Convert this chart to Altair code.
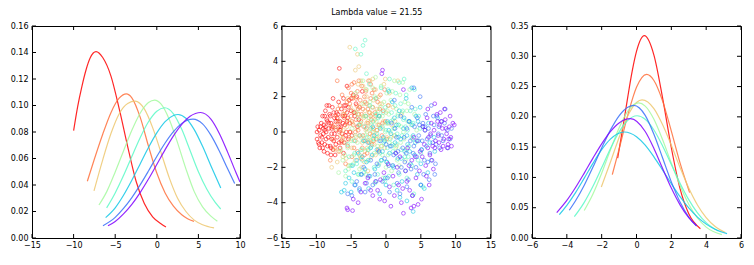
import altair as alt
import pandas as pd

FONT = "DejaVu Sans"
classes = ["c1", "c2", "c3", "c4", "c5", "c6", "c7", "c8"]
colors = ["#ff0000", "#ff6f39", "#edc76f", "#a4f99f", "#5bf9c7", "#12c7e6", "#376ff9", "#8000ff"]
title_text = "Lambda value = 21.55"

# ---- left panel: curves over the first latent axis ----
lx_c1 = [-10.0, -9.5, -9.0, -8.5, -8.0, -7.3, -6.5, -5.5, -4.5, -3.5, -2.5, -1.5, -0.5, 0.5, 1.1]
ly_c1 = [0.081, 0.0996, 0.1145, 0.127, 0.136, 0.1406, 0.1362, 0.122, 0.097, 0.069, 0.043, 0.026, 0.016, 0.0108, 0.0083]
lx_c2 = [-8.35, -7.5, -6.5, -5.5, -4.5, -3.66, -3.0, -2.0, -1.0, 0.0, 1.0, 2.0, 3.0, 3.7, 4.47]
ly_c2 = [0.0428, 0.0596, 0.0783, 0.0948, 0.1057, 0.1088, 0.1058, 0.0912, 0.0693, 0.049, 0.034, 0.024, 0.0175, 0.0145, 0.0126]
lx_c3 = [-7.55, -6.5, -5.5, -4.5, -3.5, -2.6, -1.5, -0.5, 0.5, 1.5, 2.5, 3.5, 4.5, 5.5, 6.88]
ly_c3 = [0.0355, 0.059, 0.079, 0.094, 0.1015, 0.1033, 0.0974, 0.0833, 0.0646, 0.0454, 0.030, 0.020, 0.0135, 0.0100, 0.0076]
lx_c4 = [-6.95, -6.0, -5.0, -4.0, -3.0, -2.0, -1.0, -0.26, 0.5, 1.5, 2.5, 3.5, 4.5, 5.5, 6.5, 7.28]
ly_c4 = [0.0249, 0.0352, 0.0498, 0.0657, 0.0813, 0.0942, 0.1022, 0.1041, 0.1012, 0.0895, 0.0718, 0.0522, 0.0350, 0.0235, 0.0165, 0.0126]
lx_c5 = [-6.03, -5.0, -4.0, -3.0, -2.0, -1.0, 0.0, 0.95, 2.0, 3.0, 4.0, 5.0, 6.0, 7.0, 7.68]
ly_c5 = [0.0227, 0.034, 0.0471, 0.0615, 0.0757, 0.0877, 0.0957, 0.0983, 0.0937, 0.082, 0.066, 0.050, 0.037, 0.027, 0.0219]
lx_c6 = [-6.15, -5.0, -4.0, -3.0, -2.0, -1.0, 0.0, 1.0, 2.0, 2.55, 3.5, 4.5, 5.5, 6.5, 7.68]
ly_c6 = [0.0154, 0.0228, 0.0323, 0.0436, 0.0559, 0.0683, 0.0793, 0.0878, 0.0925, 0.0932, 0.0904, 0.0818, 0.0692, 0.0546, 0.0378]
lx_c7 = [-6.47, -5.0, -4.0, -3.0, -2.0, -1.0, 0.0, 1.0, 2.0, 3.0, 4.35, 5.5, 6.5, 7.5, 8.5, 9.36]
ly_c7 = [0.0093, 0.0156, 0.0223, 0.0305, 0.0401, 0.0506, 0.0615, 0.0717, 0.0803, 0.0865, 0.0897, 0.0861, 0.0776, 0.0658, 0.0524, 0.0411]
lx_c8 = [-5.87, -5.0, -4.0, -3.0, -2.0, -1.0, 0.0, 1.0, 2.0, 3.0, 4.0, 5.27, 6.5, 7.5, 8.5, 9.5, 10.0]
ly_c8 = [0.0093, 0.0125, 0.0182, 0.0254, 0.0343, 0.0445, 0.0555, 0.0667, 0.0771, 0.0858, 0.0918, 0.0947, 0.0897, 0.0791, 0.065, 0.0496, 0.0423]

# ---- right panel: curves over the second latent axis ----
rx_c1 = [-1.08, -0.75, -0.5, -0.25, 0.0, 0.45, 1.0, 1.5, 2.0, 2.5, 3.0, 3.67]
ry_c1 = [0.132, 0.188, 0.233, 0.275, 0.308, 0.334, 0.302, 0.231, 0.149, 0.0814, 0.040, 0.0154]
rx_c2 = [-1.39, -1.0, -0.5, 0.0, 0.58, 1.0, 1.5, 2.0, 2.5, 3.05]
ry_c2 = [0.1047, 0.1467, 0.203, 0.2487, 0.270, 0.260, 0.226, 0.1765, 0.124, 0.075]
rx_c3 = [-2.02, -1.5, -1.0, -0.5, 0.0, 0.32, 1.0, 1.5, 2.0, 2.5, 3.0, 3.5, 4.0, 4.5, 5.1]
ry_c3 = [0.0843, 0.125, 0.166, 0.2018, 0.2238, 0.228, 0.2136, 0.187, 0.153, 0.1164, 0.0825, 0.0545, 0.0336, 0.0193, 0.009]
rx_c4 = [-3.0, -2.5, -2.0, -1.5, -1.0, -0.5, 0.12, 0.5, 1.0, 1.5, 2.0, 2.5, 3.0, 3.5, 4.0, 4.9]
ry_c4 = [0.0455, 0.0727, 0.107, 0.1453, 0.1817, 0.2094, 0.223, 0.2177, 0.196, 0.1622, 0.1236, 0.0866, 0.0558, 0.033, 0.018, 0.0055]
rx_c5 = [-3.57, -3.0, -2.5, -2.0, -1.5, -1.0, -0.5, 0.03, 0.5, 1.0, 1.5, 2.0, 2.5, 3.0, 3.5, 4.0, 4.7]
ry_c5 = [0.0352, 0.0589, 0.0855, 0.116, 0.1474, 0.175, 0.1943, 0.2018, 0.196, 0.1783, 0.1519, 0.1212, 0.0905, 0.0633, 0.0414, 0.0254, 0.0115]
rx_c6 = [-4.43, -4.0, -3.5, -3.0, -2.5, -2.0, -1.5, -0.7, 0.0, 0.5, 1.0, 1.5, 2.0, 2.5, 3.0, 3.5, 4.0, 4.5, 5.2]
ry_c6 = [0.0386, 0.0539, 0.0749, 0.0988, 0.1233, 0.1458, 0.1633, 0.175, 0.1673, 0.1533, 0.134, 0.1121, 0.0895, 0.0682, 0.0496, 0.0345, 0.0229, 0.0145, 0.0072]
rx_c7 = [-3.86, -3.5, -3.0, -2.5, -2.0, -1.5, -1.0, -0.5, -0.15, 0.5, 1.0, 1.5, 2.0, 2.5, 3.0, 3.45]
ry_c7 = [0.0458, 0.0614, 0.0872, 0.1171, 0.1486, 0.1781, 0.2018, 0.216, 0.219, 0.2025, 0.1713, 0.132, 0.0927, 0.0593, 0.0346, 0.0198]
rx_c8 = [-4.58, -4.0, -3.5, -3.0, -2.5, -2.0, -1.5, -1.0, -0.35, 0.5, 1.0, 1.5, 2.0, 2.5, 3.0, 3.45]
ry_c8 = [0.0419, 0.062, 0.0833, 0.1071, 0.1319, 0.1555, 0.1756, 0.190, 0.197, 0.1758, 0.1478, 0.1148, 0.0824, 0.0547, 0.0335, 0.020]

# ---- middle panel: scattered latent points per class ----
pts_c1 = [[-9.9,-0.4],[-9.7,-0.6],[-9.6,0.1],[-9.8,0.3],[-9.4,-0.2],[-9.3,0.5],[-9.5,-0.9],[-9.1,0.9],[-9.0,-0.1],[-8.9,0.4],[-8.8,-0.7],[-8.7,1.2],[-8.6,0.0],[-8.5,0.7],[-8.4,-1.2],[-8.3,-0.3],[-8.2,0.2],[-8.1,1.0],[-8.0,-0.8],[-7.9,0.5],[-7.8,-0.1],[-7.7,1.4],[-7.6,0.3],[-7.5,-0.5],[-7.4,0.8],[-7.3,-1.3],[-7.2,0.1],[-7.1,1.1],[-7.0,-0.3],[-6.9,0.6],[-6.8,1.7],[-6.7,3.6],[-6.6,-0.9],[-6.5,0.3],[-6.4,1.3],[-6.3,-0.1],[-6.2,0.9],[-6.1,1.9],[-6.0,-0.6],[-5.9,0.4],[-5.8,1.5],[-5.7,0.0],[-5.6,2.6],[-5.5,0.8],[-5.4,-0.4],[-5.3,1.8],[-5.2,0.5],[-5.0,1.2],[-4.9,-0.2],[-4.7,2.1],[-4.5,0.9],[-4.3,1.6],[-4.1,0.3],[-3.8,1.4],[-3.4,2.3],[-8.9,-1.1],[-9.2,-0.3],[-8.4,0.6],[-7.9,-0.9],[-7.2,0.6],[-6.6,0.1],[-6.9,1.0],[-7.6,1.9],[-8.2,1.5],[-6.1,-1.2],[-5.6,1.1],[-7.8,0.2],[-8.7,0.3],
          [-9.6,-0.7],[-9.4,0.3],[-9.2,-0.6],[-9.0,0.2],[-8.8,0.9],[-8.6,-0.4],[-8.4,-0.8],[-8.2,0.5],[-8.0,0.9],[-7.8,-0.4],[-7.6,-1.0],[-7.4,-0.1],[-7.2,-0.7],[-7.0,0.8],[-6.8,0.3],[-6.6,0.6],[-6.4,-0.5],[-6.2,0.5],[-6.0,1.5],[-5.8,-0.2],[-5.6,0.6],[-5.4,1.4],[-5.2,0.0],[-9.9,0.0],[-9.1,-0.9],[-8.5,1.5],[-7.5,1.1],[-6.7,-0.6],[-5.9,0.9],[-5.0,1.9],[-4.6,1.1],[-4.2,2.0],[-3.9,0.7],[-7.9,-1.3],[-8.8,0.1]]
pts_c2 = [[-8.0,-1.6],[-7.6,-0.4],[-7.2,0.9],[-7.0,2.9],[-6.8,-1.1],[-6.5,0.2],[-6.3,2.1],[-6.1,-0.3],[-5.9,1.2],[-5.7,0.5],[-5.5,-0.8],[-5.4,2.5],[-5.2,1.6],[-5.1,0.0],[-5.0,0.9],[-4.9,-1.4],[-4.8,1.9],[-4.7,0.4],[-4.6,2.8],[-4.5,1.1],[-4.4,-0.5],[-4.3,0.7],[-4.2,1.5],[-4.1,2.3],[-4.0,0.1],[-3.9,1.0],[-3.8,-0.2],[-3.7,1.8],[-3.6,0.6],[-3.5,2.6],[-3.4,-0.9],[-3.3,1.3],[-3.2,0.3],[-3.1,2.0],[-3.0,-0.5],[-2.9,0.9],[-2.8,1.6],[-2.7,-1.2],[-2.6,0.5],[-2.5,2.9],[-2.4,1.1],[-2.3,-0.1],[-2.2,1.9],[-2.1,0.7],[-2.0,-0.7],[-1.9,1.4],[-1.8,0.2],[-1.7,2.4],[-1.5,0.9],[-1.4,-0.4],[-1.2,1.7],[-1.0,0.4],[-0.8,2.1],[-0.6,-0.2],[-0.4,1.2],[-0.1,0.6],[0.3,1.5],[-5.8,-1.8],[-6.6,1.5],[-7.4,0.4],[-4.9,2.7],[-3.6,-1.5],[-2.9,2.3],[-1.1,-1.0],[-4.4,0.0],[-6.0,0.8],
          [-7.8,0.3],[-7.3,-0.9],[-6.9,1.3],[-6.4,-0.6],[-6.2,1.0],[-5.6,1.7],[-5.3,-0.3],[-4.9,0.6],[-4.6,-0.9],[-4.3,1.9],[-4.0,1.3],[-3.8,0.4],[-3.5,1.0],[-3.3,-0.2],[-3.0,1.7],[-2.8,0.2],[-2.6,1.3],[-2.4,-0.6],[-2.2,0.9],[-2.0,2.2],[-1.8,-0.5],[-1.6,1.1],[-1.3,0.1],[-0.9,1.3],[-0.5,0.5],[-0.2,2.4],[0.1,-0.4],[-5.0,2.2],[-3.9,2.9],[-6.7,0.0],[-4.1,-1.1],[-2.2,2.7],[-1.4,1.9],[-3.1,-1.3]]
pts_c3 = [[-7.8,-2.0],[-7.4,-1.0],[-7.0,-1.7],[-6.8,0.6],[-6.5,-0.2],[-6.2,-1.4],[-6.0,1.0],[-5.8,-0.6],[-5.6,0.3],[-5.4,-1.9],[-5.2,4.8],[-5.1,1.4],[-4.9,-0.9],[-4.8,0.5],[-4.6,2.0],[-4.4,3.5],[-4.3,-0.3],[-4.1,4.4],[-4.0,1.0],[-3.9,3.7],[-3.8,-1.3],[-3.7,0.4],[-3.5,1.6],[-3.4,-0.6],[-3.3,2.6],[-3.2,0.8],[-3.1,-1.7],[-3.0,1.2],[-2.9,0.1],[-2.8,2.0],[-2.7,-0.9],[-2.6,0.6],[-2.5,1.5],[-2.4,-0.3],[-2.3,2.9],[-2.2,0.3],[-2.1,-1.4],[-2.0,1.0],[-1.9,0.0],[-1.8,1.8],[-1.7,-0.7],[-1.6,0.7],[-1.5,2.4],[-1.4,-0.2],[-1.3,1.3],[-1.2,0.4],[-1.1,-1.1],[-1.0,2.0],[-0.9,0.9],[-0.8,-0.4],[-0.6,1.6],[-0.5,0.2],[-0.3,2.7],[-0.2,-0.9],[0.0,1.1],[0.2,0.5],[0.5,2.2],[0.7,-0.3],[1.0,1.4],[1.3,0.6],[1.7,2.9],[2.2,1.0],[-2.6,-2.2],[-0.1,3.0],[1.5,-0.8],[-3.6,2.9],
          [-7.2,0.2],[-6.6,-1.1],[-6.1,0.1],[-5.7,-1.5],[-5.3,0.7],[-5.0,-0.4],[-4.7,1.2],[-4.4,-1.6],[-4.2,0.2],[-3.9,1.4],[-3.6,-0.3],[-3.3,0.9],[-3.0,-1.1],[-2.8,0.5],[-2.5,-0.5],[-2.3,1.1],[-2.0,-0.2],[-1.8,0.6],[-1.5,-1.3],[-1.3,0.1],[-1.0,0.9],[-0.7,-0.8],[-0.4,0.6],[0.1,-0.3],[0.4,1.5],[0.8,0.4],[1.2,-0.2],[-4.0,2.7],[-2.9,2.4],[-1.9,3.0],[-5.5,1.9],[-3.5,-2.0],[-0.9,1.6],[-6.3,-0.4]]
pts_c4 = [[-6.8,-2.3],[-6.2,-1.6],[-5.8,-2.5],[-5.5,-0.9],[-5.2,-1.9],[-4.9,0.2],[-4.6,-1.3],[-4.3,1.1],[-4.1,-0.6],[-3.8,-2.1],[-3.6,0.5],[-3.4,-1.0],[-3.2,1.6],[-3.0,-0.2],[-2.8,2.4],[-2.6,-1.6],[-2.4,0.8],[-2.2,-0.5],[-2.0,1.4],[-1.9,0.1],[-1.7,-1.2],[-1.6,2.0],[-1.4,0.6],[-1.3,-0.3],[-1.1,1.2],[-1.0,-1.8],[-0.9,0.3],[-0.7,2.6],[-0.6,-0.8],[-0.5,0.9],[-0.3,1.7],[-0.2,-0.4],[0.0,0.5],[0.1,2.2],[0.3,-1.3],[0.4,1.0],[0.6,0.0],[0.7,1.8],[0.9,-0.7],[1.0,0.7],[1.2,2.9],[1.3,-0.2],[1.5,1.3],[1.6,-1.6],[1.8,0.4],[2.0,2.1],[2.1,-0.6],[2.3,1.1],[2.5,0.0],[2.7,1.7],[2.9,-1.0],[3.1,0.6],[3.4,2.4],[3.7,-0.3],[4.1,1.0],[-2.9,-2.4],[-1.5,3.1],[0.8,-2.2],[2.4,2.8],[-4.4,2.2],[-0.4,-2.6],[1.9,-1.9],[3.2,1.6],[-3.3,2.9],
          [-6.5,-1.0],[-5.9,-1.3],[-5.4,-2.1],[-5.0,-0.5],[-4.7,-1.8],[-4.4,-0.2],[-4.0,0.8],[-3.7,-1.4],[-3.3,-0.5],[-3.1,0.9],[-2.7,0.0],[-2.5,-1.0],[-2.3,1.7],[-2.1,0.4],[-1.8,-0.4],[-1.5,1.0],[-1.2,-0.8],[-0.8,1.4],[-0.5,-1.3],[-0.1,0.0],[0.2,1.2],[0.5,-0.6],[0.9,2.3],[1.1,0.2],[1.4,-0.9],[1.7,1.0],[2.2,0.3],[2.6,-0.4],[3.0,1.2],[3.6,0.4],[-1.9,2.5],[0.0,-2.0],[2.8,-1.6],[-3.9,-2.4],[4.4,0.1]]
pts_c5 = [[-5.8,-2.2],[-5.3,-1.4],[-4.9,-2.8],[-4.6,-0.5],[-4.4,4.7],[-4.2,-1.8],[-3.9,0.4],[-3.6,-1.0],[-3.3,4.9],[-3.2,-2.3],[-3.0,5.2],[-2.9,0.9],[-2.7,-0.3],[-2.5,-1.6],[-2.3,1.5],[-2.1,-0.8],[-1.9,0.6],[-1.7,-2.0],[-1.5,1.9],[-1.3,-0.1],[-1.1,0.8],[-0.9,-1.2],[-0.7,2.5],[-0.5,0.3],[-0.3,-0.6],[-0.1,1.4],[0.1,-1.7],[0.3,0.5],[0.5,3.0],[0.6,-0.4],[0.8,1.1],[1.0,-1.1],[1.2,0.2],[1.4,2.2],[1.5,-0.7],[1.7,0.9],[1.9,-2.4],[2.1,1.6],[2.3,-0.2],[2.5,0.7],[2.7,-1.4],[2.9,2.1],[3.1,0.1],[3.3,-0.8],[3.5,1.2],[3.7,-1.9],[3.9,0.5],[4.1,2.4],[4.4,-0.5],[4.7,0.9],[5.0,-1.2],[5.3,-3.1],[-0.2,-2.8],[1.1,-3.0],[2.6,3.0],[-2.4,2.7],[0.4,-2.5],[3.0,-2.6],[-1.6,-2.9],[4.0,-3.5],
          [-5.5,-0.7],[-5.0,-1.9],[-4.5,-1.2],[-4.0,-2.4],[-3.7,-0.2],[-3.4,-1.6],[-3.0,0.3],[-2.6,-1.0],[-2.2,0.2],[-1.8,-0.4],[-1.4,1.0],[-1.0,-0.5],[-0.6,-1.6],[-0.4,1.1],[0.0,0.1],[0.2,-0.9],[0.7,0.6],[0.9,-1.9],[1.3,1.5],[1.6,-0.1],[1.8,0.4],[2.2,-1.0],[2.4,1.2],[2.8,0.3],[3.2,-1.4],[3.4,0.6],[3.8,-0.4],[4.2,1.3],[4.6,-1.6],[4.9,0.2],[-3.6,4.4],[-2.8,3.3],[0.3,2.4],[1.9,2.8],[-1.2,-2.4]]
pts_c6 = [[-6.4,-3.4],[-6.0,-3.3],[-5.3,-2.6],[-4.8,-1.9],[-4.4,-3.0],[-4.0,-1.2],[-3.6,-2.4],[-3.2,-0.5],[-2.8,-1.7],[-2.5,-3.2],[-2.2,-0.9],[-1.9,0.3],[-1.6,-2.1],[-1.3,-1.0],[-1.0,0.9],[-0.7,-1.6],[-0.4,-0.3],[-0.1,-2.6],[0.2,0.6],[0.5,-1.2],[0.7,-0.1],[0.9,1.7],[1.1,-2.0],[1.3,-0.6],[1.5,0.4],[1.7,-1.5],[1.9,1.2],[2.1,-0.4],[2.3,-2.8],[2.5,0.2],[2.7,-1.1],[2.9,1.9],[3.1,-0.7],[3.3,0.6],[3.5,-1.8],[3.7,2.5],[3.9,-0.2],[4.1,-1.3],[4.3,0.9],[4.5,-2.4],[4.7,-0.5],[4.9,1.4],[5.1,-1.0],[5.3,0.3],[5.5,-3.2],[5.8,-0.8],[6.1,0.5],[6.5,-1.6],[6.9,-0.3],[7.4,0.8],[3.9,-4.5],[2.0,-3.7],[5.0,-3.0],[-0.9,-3.5],[1.6,-3.3],[6.0,-2.3],[0.4,2.3],[3.0,-3.9],
          [-5.8,-2.9],[-5.0,-3.4],[-4.6,-2.3],[-4.2,-1.6],[-3.8,-3.3],[-3.4,-1.4],[-3.0,-2.1],[-2.6,-0.6],[-2.3,-2.5],[-2.0,-1.3],[-1.7,-0.2],[-1.4,-2.8],[-1.1,-1.9],[-0.8,0.2],[-0.5,-1.1],[-0.2,-0.5],[0.1,-1.7],[0.4,0.1],[0.8,-0.8],[1.2,0.8],[1.4,-1.2],[1.8,-0.3],[2.2,-1.5],[2.6,0.8],[3.0,-0.2],[3.4,-1.1],[3.8,0.4],[4.2,-0.6],[4.6,0.6],[5.0,-1.8],[5.6,0.1],[6.3,-0.6],[7.0,-1.1],[0.0,-3.0],[2.8,-2.2]]
pts_c7 = [[-5.5,-3.5],[-4.9,-3.6],[-4.2,-2.8],[-3.5,-2.4],[-2.8,-2.9],[-2.2,-1.6],[-1.6,-2.4],[-1.0,-1.1],[-0.5,-2.8],[0.0,-0.7],[0.4,-1.9],[0.8,0.5],[1.1,-1.3],[1.5,-0.3],[1.8,-2.3],[2.1,0.9],[2.4,-0.9],[2.7,-1.7],[3.0,0.2],[3.2,-2.7],[3.5,-0.5],[3.7,1.4],[3.9,-1.2],[4.1,0.3],[4.3,-2.0],[4.5,0.8],[4.7,-0.2],[4.9,2.0],[5.1,-1.0],[5.3,0.5],[5.5,-1.6],[5.7,1.0],[5.9,-0.4],[6.1,0.2],[6.3,-1.2],[6.5,1.5],[6.7,-0.6],[6.9,0.4],[7.1,-1.8],[7.3,0.9],[7.5,-0.1],[7.7,-0.9],[7.9,0.6],[8.2,-0.5],[8.5,1.3],[8.8,0.1],[9.2,-0.4],[2.0,-3.5],[5.0,-3.0],[0.5,-3.4],[3.8,-3.6],[6.2,-2.7],[-3.0,-3.4],[1.2,1.8],[4.0,2.5],[7.0,-2.4],
          [-4.5,-3.0],[-3.8,-3.2],[-3.2,-2.0],[-2.5,-2.5],[-1.9,-3.0],[-1.3,-1.8],[-0.8,-0.5],[-0.2,-1.5],[0.2,-2.6],[0.6,-0.8],[1.0,-1.9],[1.3,0.2],[1.7,-1.1],[2.2,-2.0],[2.6,-0.3],[2.9,-1.2],[3.3,0.6],[3.6,-2.1],[4.0,-0.8],[4.4,-1.4],[4.8,0.4],[5.2,-0.5],[5.6,0.3],[6.0,-1.7],[6.4,-0.2],[6.8,0.9],[7.2,-0.7],[7.6,0.3],[8.0,-0.2],[8.4,0.5],[8.9,-0.9],[9.4,0.2],[5.4,-2.4],[3.0,-3.1],[1.6,-2.9]]
pts_c8 = [[-5.6,-4.3],[-5.5,-4.4],[-4.8,-4.45],[-4.7,-3.8],[-3.6,-3.4],[-2.6,-2.6],[-1.9,-3.6],[-1.2,-3.3],[-0.8,-2.7],[-0.5,3.5],[-0.2,-3.9],[0.3,-1.8],[0.7,-4.2],[1.0,-2.5],[1.4,-1.2],[1.8,-3.0],[2.2,-4.0],[2.5,-4.6],[2.8,-2.2],[3.1,-0.9],[3.4,-3.3],[3.7,-1.6],[4.0,-0.3],[4.3,-2.6],[4.6,-4.1],[4.9,-1.1],[5.1,-3.8],[5.3,0.3],[5.5,-0.7],[5.7,-1.9],[5.9,0.8],[6.1,-0.3],[6.3,-1.3],[6.5,0.5],[6.7,-0.8],[6.9,0.1],[7.1,-0.5],[7.3,1.0],[7.5,-0.2],[7.7,0.4],[7.9,-1.0],[8.1,0.2],[8.3,-0.4],[8.5,0.7],[8.7,-0.1],[8.9,-0.7],[9.1,0.3],[9.3,-0.3],[9.6,0.5],[8.4,1.3],[7.0,1.6],[5.8,-2.5],[6.2,-3.0],[4.0,-4.2],[-0.6,3.3],[2.5,2.4],[6.8,-2.1],[8.8,-0.9],
          [-4.0,-4.0],[-3.0,-2.9],[-2.2,-3.3],[-1.5,-2.8],[-0.9,-3.8],[-0.3,-2.3],[0.5,-3.1],[1.2,-3.6],[1.6,-2.0],[2.0,-1.4],[2.4,-3.2],[3.0,-2.8],[3.3,-1.9],[3.8,-3.6],[4.2,-1.4],[4.5,-0.5],[4.8,-2.2],[5.2,-1.4],[5.6,0.1],[6.0,-0.9],[6.4,-0.1],[6.6,-1.6],[7.0,-0.9],[7.4,0.6],[7.6,-0.6],[8.0,0.6],[8.2,-0.8],[8.6,0.2],[9.0,-0.4],[9.4,-0.8],[9.8,0.4],[7.8,1.1],[6.0,1.3],[9.2,0.9],[3.6,-4.3]]

# axis tick values
left_xticks = [-15, -10, -5, 0, 5, 10]
left_yticks = [0.0, 0.02, 0.04, 0.06, 0.08, 0.10, 0.12, 0.14, 0.16]
mid_xticks = [-15, -10, -5, 0, 5, 10, 15]
mid_yticks = [-6, -4, -2, 0, 2, 4, 6]
right_xticks = [-6, -4, -2, 0, 2, 4, 6]
right_yticks = [0.0, 0.05, 0.10, 0.15, 0.20, 0.25, 0.30, 0.35]

left_x = [lx_c1, lx_c2, lx_c3, lx_c4, lx_c5, lx_c6, lx_c7, lx_c8]
left_y = [ly_c1, ly_c2, ly_c3, ly_c4, ly_c5, ly_c6, ly_c7, ly_c8]
right_x = [rx_c1, rx_c2, rx_c3, rx_c4, rx_c5, rx_c6, rx_c7, rx_c8]
right_y = [ry_c1, ry_c2, ry_c3, ry_c4, ry_c5, ry_c6, ry_c7, ry_c8]
mid_pts = [pts_c1, pts_c2, pts_c3, pts_c4, pts_c5, pts_c6, pts_c7, pts_c8]


def curves_df(xl, yl):
    rows = []
    for c, xs, ys in zip(classes, xl, yl):
        for i, (a, b) in enumerate(zip(xs, ys)):
            rows.append({"cls": c, "x": a, "y": b, "i": i})
    return pd.DataFrame(rows)


def points_df(pl):
    rows = []
    for c, pts in zip(classes, pl):
        for a, b in pts:
            rows.append({"cls": c, "x": a, "y": b})
    return pd.DataFrame(rows)


color_enc = alt.Color("cls:N", scale=alt.Scale(domain=classes, range=colors), legend=None)
TL = 4  # inner tick length


def panel(main, xdom, ydom, xt, yt, xfmt, yfmt, w, h):
    xs = alt.Scale(domain=xdom, nice=False, zero=False)
    ys = alt.Scale(domain=ydom, nice=False, zero=False)
    xax = alt.Axis(values=xt, format=xfmt, ticks=False, domain=False, grid=False,
                   labelPadding=3, labelFlush=False, labelOverlap=False, title=None)
    yax = alt.Axis(values=yt, format=yfmt, ticks=False, domain=False, grid=False,
                   labelPadding=4, labelFlush=False, labelOverlap=False, title=None,
                   minExtent=22, maxExtent=22)
    main = main(xs, ys, xax, yax)
    xt_df = pd.DataFrame({"t": xt})
    yt_df = pd.DataFrame({"t": yt})
    rule = dict(color="black", strokeWidth=1)
    bottom = alt.Chart(xt_df).mark_rule(**rule).encode(
        x=alt.X("t:Q", scale=xs, axis=xax), y=alt.value(h), y2=alt.value(h - TL))
    top = alt.Chart(xt_df).mark_rule(**rule).encode(
        x=alt.X("t:Q", scale=xs, axis=xax), y=alt.value(0), y2=alt.value(TL))
    left = alt.Chart(yt_df).mark_rule(**rule).encode(
        y=alt.Y("t:Q", scale=ys, axis=yax), x=alt.value(0), x2=alt.value(TL))
    right = alt.Chart(yt_df).mark_rule(**rule).encode(
        y=alt.Y("t:Q", scale=ys, axis=yax), x=alt.value(w), x2=alt.value(w - TL))
    return alt.layer(main, bottom, top, left, right).properties(width=w, height=h)


def line_layer(df):
    def f(xs, ys, xax, yax):
        return alt.Chart(df).mark_line(strokeWidth=1.2, opacity=0.85, interpolate="monotone", clip=True).encode(
            x=alt.X("x:Q", scale=xs, axis=xax),
            y=alt.Y("y:Q", scale=ys, axis=yax),
            color=color_enc,
            order="i:Q",
        )
    return f


def point_layer(df):
    def f(xs, ys, xax, yax):
        return alt.Chart(df).mark_point(shape="circle", filled=False, size=14, strokeWidth=1, opacity=0.6).encode(
            x=alt.X("x:Q", scale=xs, axis=xax),
            y=alt.Y("y:Q", scale=ys, axis=yax),
            color=color_enc,
        )
    return f


H = 212
p1 = panel(line_layer(curves_df(left_x, left_y)), [-15, 10], [0, 0.16], left_xticks, left_yticks, "d", ".2f", 208, H)
p2 = panel(point_layer(points_df(mid_pts)), [-15, 15], [-6, 6], mid_xticks, mid_yticks, "d", "d", 209, H)
p3 = panel(line_layer(curves_df(right_x, right_y)), [-6, 6], [0, 0.35], right_xticks, right_yticks, "d", ".2f", 209, H)

chart = alt.hconcat(
    p1, p2, p3, spacing=41.5, bounds="flush",
    title=alt.TitleParams(title_text, fontSize=8, font=FONT, fontWeight="normal", anchor="middle", offset=5, color="#000"),
).properties(
    padding={"left": 1, "top": 0, "right": 0, "bottom": 0}
).configure_view(
    stroke="black", strokeWidth=1
).configure_axis(
    labelFont=FONT, labelFontSize=8, labelColor="#000"
)

chart.save("out.html", embed_options={"renderer": "svg", "actions": False})
